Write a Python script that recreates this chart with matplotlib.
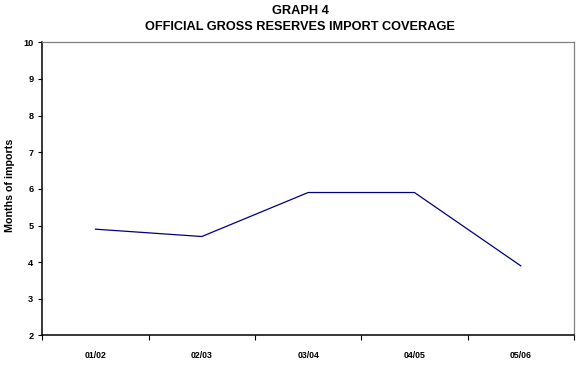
import matplotlib
matplotlib.use("Agg")
import matplotlib.pyplot as plt
import numpy as np

plt.rcParams['font.family'] = ['Liberation Sans', 'DejaVu Sans']

periods = ["01/02", "02/03", "03/04", "04/05", "05/06"]
months_of_imports = [4.9, 4.7, 5.9, 5.9, 3.9]
y_ticks = [2, 3, 4, 5, 6, 7, 8, 9, 10]

fig = plt.figure(figsize=(5.78, 3.71), dpi=100)
ax = fig.add_axes([0.0732, 0.0957, 0.9198, 0.7905])

x = np.arange(len(periods))
ax.plot(x, months_of_imports, color="#000080", linewidth=0.9)

ax.set_xlim(-0.5, len(periods) - 0.5)
ax.set_ylim(2, 10)
ax.set_yticks(y_ticks)
ax.set_yticklabels([str(v) for v in y_ticks], fontsize=6.6, fontweight="bold")

# category labels centred, tick marks on the category boundaries
ax.set_xticks(x)
ax.set_xticklabels(periods, fontsize=6.3, fontweight="bold")
ax.tick_params(axis="x", which="major", length=0, pad=11)
ax.set_xticks(np.arange(len(periods) + 1) - 0.5, minor=True)
ax.tick_params(axis="x", which="minor", length=3.5, width=0.8, direction="out")
ax.tick_params(axis="y", length=3, width=0.8, pad=3.5)

for s in ("left", "bottom"):
    ax.spines[s].set_color("black")
    ax.spines[s].set_linewidth(1.1)
for s in ("top", "right"):
    ax.spines[s].set_color("#808080")
    ax.spines[s].set_linewidth(0.9)

fig.text(10.5 / 578, 1 - 185 / 371, "Months of imports", rotation=90,
         ha="center", va="center", fontsize=7.7, fontweight="bold")

fig.text(300 / 578, 1 - 10.7 / 371, "GRAPH 4", ha="center", va="center",
         fontsize=9.2, fontweight="bold")
fig.text(300 / 578, 1 - 26.7 / 371, "OFFICIAL GROSS RESERVES IMPORT COVERAGE",
         ha="center", va="center", fontsize=9.2, fontweight="bold")

fig.savefig("out.png", dpi=100)
